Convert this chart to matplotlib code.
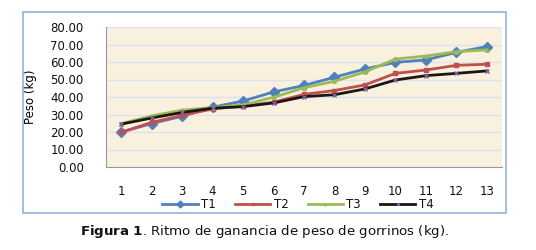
import matplotlib
matplotlib.use("Agg")
import matplotlib.pyplot as plt
from matplotlib.patches import Rectangle
import numpy as np

categories = ["1", "2", "3", "4", "5", "6", "7", "8", "9", "10", "11", "12", "13"]
t1 = [20.0, 24.8, 29.0, 34.2, 37.7, 42.9, 46.6, 51.3, 56.0, 59.8, 61.2, 65.5, 68.8]
t2 = [19.8, 25.5, 29.5, 33.2, 34.8, 37.0, 41.5, 43.7, 46.9, 53.5, 55.4, 58.1, 58.7]
t3 = [24.8, 29.2, 32.5, 34.0, 35.5, 39.8, 45.3, 49.0, 54.3, 61.7, 63.4, 65.9, 66.9]
t4 = [24.5, 28.0, 31.2, 33.6, 34.5, 36.6, 40.2, 41.3, 44.6, 49.7, 52.2, 53.5, 54.9]
series_names = ["T1", "T2", "T3", "T4"]
yticks = [0, 10, 20, 30, 40, 50, 60, 70, 80]

W, H = 536, 250
fig = plt.figure(figsize=(W / 100, H / 100), dpi=100)
fig.patch.set_facecolor("white")

# outer chart box
fig.patches.append(Rectangle((23 / W, 1 - 213 / H), (506 - 23) / W, (213 - 12) / H,
                             transform=fig.transFigure, fill=False,
                             edgecolor="#95B3D7", linewidth=1.2))

ax = fig.add_axes([106 / W, 1 - 167 / H, (502 - 106) / W, (167 - 27) / H])
ax.set_facecolor("#FAF0DE")

x = np.arange(len(categories))
styles = [
    dict(color="#4F81BD", marker="D", markersize=5),
    dict(color="#C0504D", marker="s", markersize=2.5),
    dict(color="#9BBB59", marker="^", markersize=2.5),
    dict(color="#1C1614", marker="x", markersize=2.5, markeredgecolor="#7F5FA0"),
]
for name, vals, st in zip(series_names, [t1, t2, t3, t4], styles):
    ax.plot(x, vals, linewidth=2.0, label=name, **st)

ax.set_xlim(-0.5, len(categories) - 0.5)
ax.set_ylim(0, 80)
ax.set_yticks(yticks)
ax.set_yticklabels([f"{v:.2f}" for v in yticks])
ax.set_xticks(x)
ax.set_xticklabels(categories)
ax.grid(axis="y", color="#DCE3EE", linewidth=1.0)
ax.set_axisbelow(True)
for s in ["top", "right"]:
    ax.spines[s].set_visible(False)
ax.spines["left"].set_color("#9A9A9A")
ax.spines["bottom"].set_color("#9A9A9A")
ax.tick_params(axis="both", length=0, labelsize=8.5, colors="#111111")
ax.tick_params(axis="x", pad=13)
ax.tick_params(axis="y", pad=16)

ax.set_ylabel("Peso (kg)", fontsize=8.5, family=["Liberation Sans Narrow", "DejaVu Sans"],
              labelpad=4)
ax.yaxis.set_label_coords(-0.175, 0.5)

leg = fig.legend(loc="center", bbox_to_anchor=(298 / W, 1 - 205 / H), ncol=4,
                 frameon=False, fontsize=8.5, handlelength=3.0, columnspacing=1.6,
                 handletextpad=0.3, markerscale=0.7)
for t in leg.get_texts():
    t.set_color("#111111")

fig.text(265 / W, 1 - 232 / H, r"$\bf{Figura\ 1}$. Ritmo de ganancia de peso de gorrinos (kg).",
         ha="center", va="center", fontsize=9.6, color="#111111")

fig.savefig("out.png", dpi=100)
